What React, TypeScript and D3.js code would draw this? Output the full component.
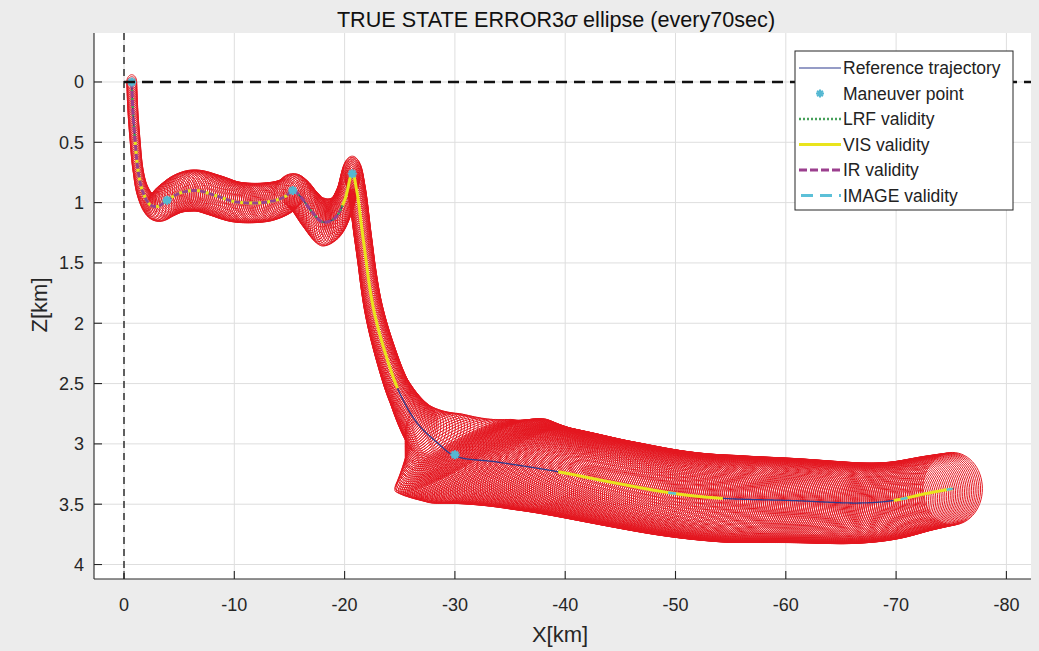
import React, { useEffect, useRef } from 'react';
import * as d3 from 'd3';

const W = 1039;
const H = 651;
const FONT = 'Liberation Sans, Arial, Helvetica, sans-serif';

// reference trajectory (km)
const trajX = [-0.7, -0.8, -1.0, -1.27, -1.7, -2.4, -3.1, -3.9, -5.1, -6.6, -8.25, -10.2, -13.0, -14.6, -15.3, -16.0, -16.9, -18.0, -19.1, -20.0, -20.7, -21.1, -21.7, -22.6, -23.8, -25.0, -26.6, -28.4, -30.0, -33.8, -39.3, -44.3, -49.8, -54.0, -60.7, -66.7, -69.7, -72.8, -75.2];
const trajZ = [0, 0.23, 0.48, 0.73, 0.91, 1.02, 1.03, 0.98, 0.92, 0.9, 0.94, 0.995, 0.995, 0.95, 0.9, 0.95, 1.06, 1.16, 1.13, 0.98, 0.755, 0.9, 1.31, 1.87, 2.28, 2.58, 2.83, 2.99, 3.1, 3.15, 3.23, 3.32, 3.41, 3.45, 3.47, 3.49, 3.47, 3.41, 3.37];

// maneuver points
const manX = [-0.7, -3.9, -15.3, -20.7, -30.0];
const manZ = [0, 0.98, 0.9, 0.76, 3.09];

// sensor validity windows, [x start, x end] in km
const lrfSpans = [[-0.7, -20.7]];
const visSpans = [[-1.0, -15.3], [-19.8, -24.8], [-39.3, -54.3], [-69.7, -75.2]];
const irSpans = [[-0.7, -19.6]];
const imageSpans = [[-49.3, -50.3], [-70.4, -71.1], [-74.5, -75.2]];

// 3 sigma ellipse size along the trajectory (km)
const ellX = [-0.7, -1.3, -2.4, -3.5, -6, -9, -13, -15.3, -18, -20.7, -22, -25, -27, -28.5, -30, -33, -38, -45, -55, -65, -72, -75.2];
const ellRx = [0.45, 0.45, 0.65, 1.2, 1.6, 1.7, 1.5, 1.2, 1.0, 0.8, 0.75, 1.0, 1.5, 3.0, 5.5, 5.8, 5.0, 4.5, 4.0, 3.5, 3.0, 2.7];
const ellRz = [0.06, 0.07, 0.1, 0.14, 0.17, 0.17, 0.16, 0.14, 0.2, 0.14, 0.12, 0.16, 0.2, 0.2, 0.13, 0.2, 0.3, 0.34, 0.36, 0.34, 0.31, 0.3];
const ellShear = [0, 0, 0, 0, 0, 0, 0, 0, 0, 0, 0, 0, 0.02, 0.05, 0.05, 0.05, 0.03, 0.015, 0.005, 0, 0, 0];

const xTicks = [0, -10, -20, -30, -40, -50, -60, -70, -80];
const zTicks = [0, 0.5, 1, 1.5, 2, 2.5, 3, 3.5, 4];

const legendItems = ['Reference trajectory', 'Maneuver point', 'LRF validity', 'VIS validity', 'IR validity', 'IMAGE validity'];

const C = {
  ref: '#2d3b8e',
  man: '#55b8d2',
  lrf: '#46a05a',
  vis: '#e9e41c',
  ir: '#9b3f8e',
  img: '#5cc0d8',
  ell: '#e4161f',
};

const asterisk = (r) =>
  [0, 45, 90, 135].map(a => {
    const c = Math.cos((a * Math.PI) / 180) * r, s = Math.sin((a * Math.PI) / 180) * r;
    return `M${-c},${-s}L${c},${s}`;
  }).join('');

export default function App() {
  const ref = useRef<SVGSVGElement>(null);

  useEffect(() => {
    const svg = d3.select(ref.current);
    svg.selectAll('*').remove();

    const left = 94, top = 33, right = 1031, bottom = 579;
    const xs = d3.scaleLinear().domain([2.72, -82.23]).range([left, right]);
    const zs = d3.scaleLinear().domain([-0.406, 4.12]).range([top, bottom]);

    svg.append('rect').attr('width', W).attr('height', H).attr('fill', '#ececec');
    svg.append('rect').attr('x', left).attr('y', top).attr('width', right - left).attr('height', bottom - top).attr('fill', '#fff');

    svg.append('clipPath').attr('id', 'plotclip').append('rect')
      .attr('x', left).attr('y', top).attr('width', right - left).attr('height', bottom - top);

    // grid
    const grid = svg.append('g').attr('stroke', '#dedede').attr('stroke-width', 1);
    xTicks.forEach(v => grid.append('line').attr('x1', xs(v)).attr('x2', xs(v)).attr('y1', top).attr('y2', bottom));
    zTicks.forEach(v => grid.append('line').attr('x1', left).attr('x2', right).attr('y1', zs(v)).attr('y2', zs(v)));

    const plot = svg.append('g').attr('clip-path', 'url(#plotclip)');

    // vertical dashed line at x = 0
    plot.append('line').attr('x1', xs(0)).attr('x2', xs(0)).attr('y1', top).attr('y2', bottom)
      .attr('stroke', '#111').attr('stroke-width', 1.3).attr('stroke-dasharray', '7,5');

    const line = d3.line().x(d => xs(d[0])).y(d => zs(d[1])).curve(d3.curveCatmullRom.alpha(0.5));
    const pts = trajX.map((x, i) => [x, trajZ[i]]);
    const tmp = plot.append('path').attr('d', line(pts)).attr('fill', 'none');
    const node = tmp.node() as SVGPathElement;
    const L = node.getTotalLength();
    const dense = d3.range(0, L, 1).concat([L]).map(l => {
      const p = node.getPointAtLength(l);
      return [p.x, p.y];
    });

    // ellipses every few pixels along the trajectory
    const rxS = d3.scaleLinear().domain(ellX).range(ellRx).clamp(true);
    const rzS = d3.scaleLinear().domain(ellX).range(ellRz).clamp(true);
    const shS = d3.scaleLinear().domain(ellX).range(ellShear).clamp(true);
    const ring = d3.line();
    let ed = '';
    for (let l = 0; l <= L; l += 2) {
      const p = node.getPointAtLength(l);
      const x0 = xs.invert(p.x), z0 = zs.invert(p.y);
      const rx = rxS(x0), rz = rzS(x0), sh = shS(x0);
      const r = d3.range(0, 61).map(k => {
        const t = (k / 60) * 2 * Math.PI;
        const dx = rx * Math.cos(t);
        const dz = rz * Math.sin(t) + sh * dx;
        return [xs(x0 + dx), zs(z0 + dz)];
      });
      ed += ring(r) + 'Z';
    }
    tmp.remove();
    plot.append('path').attr('d', ed).attr('fill', 'none').attr('stroke', C.ell).attr('stroke-width', 1);

    const poly = d3.line();
    // reference trajectory
    plot.append('path').attr('d', poly(dense)).attr('fill', 'none').attr('stroke', C.ref).attr('stroke-width', 1.3);

    const seg = (spans, color, width, dash) => {
      spans.forEach(([a, b]) => {
        const sp = dense.filter(p => {
          const x = xs.invert(p[0]);
          return x <= a && x >= b;
        });
        if (sp.length < 2) return;
        plot.append('path').attr('d', poly(sp)).attr('fill', 'none')
          .attr('stroke', color).attr('stroke-width', width)
          .attr('stroke-dasharray', dash);
      });
    };
    seg(lrfSpans, C.lrf, 2.5, '2,2');
    seg(visSpans, C.vis, 3, null);
    seg(irSpans, C.ir, 3, '6,3');
    seg(imageSpans, C.img, 2.5, '8,6');

    // maneuver points
    manX.forEach((x, i) => {
      plot.append('path').attr('d', asterisk(4.5)).attr('transform', `translate(${xs(x)},${zs(manZ[i])})`)
        .attr('stroke', C.man).attr('stroke-width', 2.4).attr('fill', 'none');
    });

    // horizontal dashed line at z = 0
    plot.append('line').attr('x1', xs(0)).attr('x2', right).attr('y1', zs(0)).attr('y2', zs(0))
      .attr('stroke', '#111').attr('stroke-width', 2.5).attr('stroke-dasharray', '11,7');

    // axes
    const ax = svg.append('g').attr('stroke', '#262626').attr('stroke-width', 1.1);
    ax.append('line').attr('x1', left).attr('x2', left).attr('y1', top).attr('y2', bottom);
    ax.append('line').attr('x1', left).attr('x2', right).attr('y1', bottom).attr('y2', bottom);
    xTicks.forEach(v => ax.append('line').attr('x1', xs(v)).attr('x2', xs(v)).attr('y1', bottom).attr('y2', bottom - 8));
    zTicks.forEach(v => ax.append('line').attr('x1', left).attr('x2', left + 8).attr('y1', zs(v)).attr('y2', zs(v)));

    const txt = svg.append('g').attr('font-family', FONT).attr('fill', '#262626');
    xTicks.forEach(v => txt.append('text').attr('x', xs(v)).attr('y', 611).attr('text-anchor', 'middle')
      .attr('font-size', 18).text(String(v)));
    zTicks.forEach(v => txt.append('text').attr('x', 84).attr('y', zs(v) + 6.5).attr('text-anchor', 'end')
      .attr('font-size', 18).text(String(v)));

    txt.append('text').attr('x', 560).attr('y', 642).attr('text-anchor', 'middle').attr('font-size', 22).text('X[km]');
    txt.append('text').attr('transform', 'translate(47,305) rotate(-90)').attr('text-anchor', 'middle')
      .attr('font-size', 22).text('Z[km]');

    const title = txt.append('text').attr('x', 556).attr('y', 27).attr('text-anchor', 'middle').attr('font-size', 21.6)
      .attr('fill', '#111');
    title.append('tspan').text('TRUE STATE ERROR3');
    title.append('tspan').attr('font-style', 'italic').text('σ');
    title.append('tspan').text(' ellipse (every70sec)');

    // legend
    const lg = svg.append('g').attr('transform', 'translate(795,51)');
    lg.append('rect').attr('width', 218).attr('height', 159).attr('fill', '#fff').attr('stroke', '#262626').attr('stroke-width', 1);
    const rowY = (i) => 17 + i * 25.5;
    lg.append('line').attr('x1', 4).attr('x2', 46).attr('y1', rowY(0)).attr('y2', rowY(0)).attr('stroke', C.ref).attr('stroke-width', 1.2);
    lg.append('path').attr('d', asterisk(4)).attr('transform', `translate(25,${rowY(1)})`).attr('stroke', C.man).attr('stroke-width', 2);
    lg.append('line').attr('x1', 4).attr('x2', 46).attr('y1', rowY(2)).attr('y2', rowY(2)).attr('stroke', C.lrf).attr('stroke-width', 2.5).attr('stroke-dasharray', '2,2');
    lg.append('line').attr('x1', 4).attr('x2', 46).attr('y1', rowY(3)).attr('y2', rowY(3)).attr('stroke', C.vis).attr('stroke-width', 3);
    lg.append('line').attr('x1', 4).attr('x2', 46).attr('y1', rowY(4)).attr('y2', rowY(4)).attr('stroke', C.ir).attr('stroke-width', 3).attr('stroke-dasharray', '8,3');
    lg.append('line').attr('x1', 6).attr('x2', 46).attr('y1', rowY(5)).attr('y2', rowY(5)).attr('stroke', C.img).attr('stroke-width', 3).attr('stroke-dasharray', '12,7');
    legendItems.forEach((s, i) => lg.append('text').attr('x', 48).attr('y', rowY(i) + 6).attr('font-family', FONT)
      .attr('font-size', 17.5).attr('fill', '#222').text(s));
  }, []);

  return <svg ref={ref} width={W} height={H} style={{ position: 'absolute', left: 0, top: 0 }} />;
}
